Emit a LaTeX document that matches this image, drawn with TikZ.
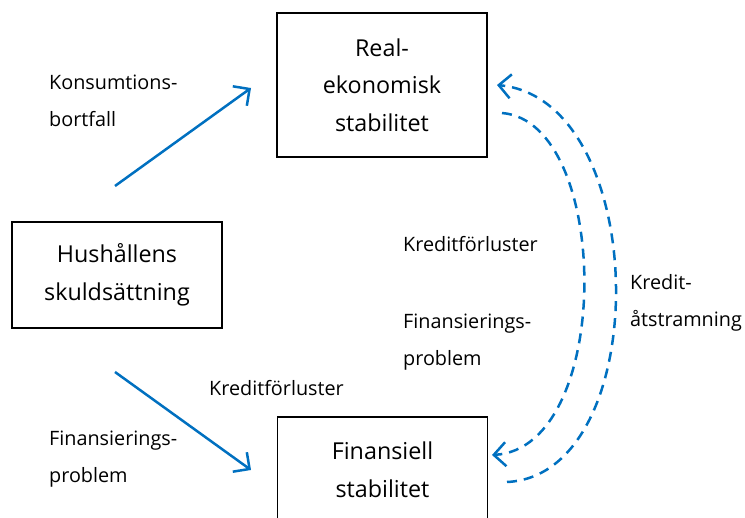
\documentclass[tikz,border=0pt]{standalone}
\usepackage{fontspec}
\setmainfont{Open Sans}
\usetikzlibrary{arrows.meta}
\definecolor{linkblue}{HTML}{0070C0}
\begin{document}
\begin{tikzpicture}[x=1pt, y=-1pt,
  box/.style={draw, line width=1.3pt, minimum width=210pt, inner sep=0pt, align=center, font=\fontsize{23.3}{37.5}\selectfont},
  lbl/.style={anchor=west, inner sep=0pt, align=left, font=\fontsize{19.8}{37.5}\selectfont},
  flow/.style={draw=linkblue, line width=2.5pt, -{Straight Barb[length=12pt, width=24pt, line width=2.5pt]}},
  loop/.style={flow, dash pattern=on 10pt off 7pt}]
\useasboundingbox (0,0) rectangle (745,518);

% Boxes
\node[box, minimum height=144pt] (real) at (382,85) {Real-\\ekonomisk\\stabilitet};
\node[box, minimum height=106pt] (hush) at (117,275) {Hushållens\\skuldsättning};
\node[box, minimum height=106pt] (fin) at (382.5,470) {Finansiell\\stabilitet};

% Labels
\node[lbl] (kons) at (49,101) {Konsumtions-\\bortfall};
\node[lbl] (finprobA) at (49,459) {Finansierings-\\problem};
\node[lbl] (kredA) at (209,388) {Kreditförluster};
\node[lbl] (kredB) at (403,244) {Kreditförluster};
\node[lbl] (finprobB) at (403,342) {Finansierings-\\problem};
\node[lbl] (atstr) at (630,303) {Kredit-\\åtstramning};

% Arrow end points
\coordinate (upS) at (115,186);
\coordinate (upE) at (251,88);
\coordinate (downS) at (115,372);
\coordinate (downE) at (251,470);
\coordinate (outS) at (507,482);
\coordinate (outE) at (497,85);
\coordinate (inS) at (502,113);
\coordinate (inE) at (492,455);

% Arrows
\draw[flow] (upS) -- (upE);
\draw[flow] (downS) -- (downE);
\draw[loop] (outS) .. controls (655,475) and (652,100) .. (outE);
\draw[loop] (inS) .. controls (612,122) and (614,448) .. (inE);
\end{tikzpicture}
\end{document}
